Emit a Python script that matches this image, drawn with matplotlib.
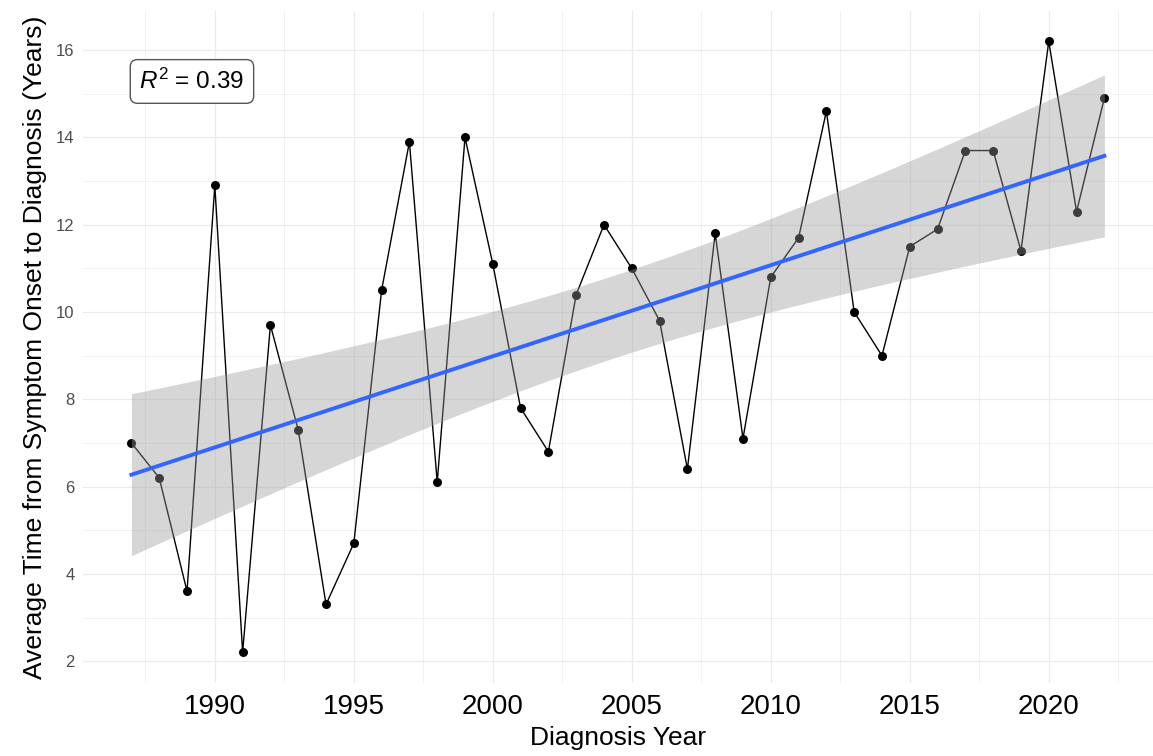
import numpy as np
import matplotlib
matplotlib.use("Agg")
import matplotlib.pyplot as plt
from matplotlib.ticker import MultipleLocator

plt.rcParams['mathtext.fontset'] = 'custom'
plt.rcParams['mathtext.rm'] = 'Liberation Sans'
plt.rcParams['mathtext.it'] = 'Liberation Sans:italic'

years = list(range(1987, 2023))
avg_time = [7.0, 6.2, 3.6, 12.9, 2.2, 9.7, 7.3, 3.3, 4.7, 10.5,
            13.9, 6.1, 14.0, 11.1, 7.8, 6.8, 10.4, 12.0, 11.0, 9.8,
            6.4, 11.8, 7.1, 10.8, 11.7, 14.6, 10.0, 9.0, 11.5, 11.9,
            13.7, 13.7, 11.4, 16.2, 12.3, 14.9]
x_ticks = [1990, 1995, 2000, 2005, 2010, 2015, 2020]
y_ticks = [2, 4, 6, 8, 10, 12, 14, 16]

x = np.array(years, dtype=float)
y = np.array(avg_time, dtype=float)
n = len(x)
slope, intercept = np.polyfit(x, y, 1)
yhat = slope * x + intercept
resid = y - yhat
s = np.sqrt(np.sum(resid ** 2) / (n - 2))
xbar = x.mean()
sxx = np.sum((x - xbar) ** 2)
r2 = 1 - np.sum(resid ** 2) / np.sum((y - y.mean()) ** 2)
t_crit = 2.032  # t(0.975, df=34)
xg = np.linspace(x.min(), x.max(), 80)
yg = slope * xg + intercept
se = s * np.sqrt(1.0 / n + (xg - xbar) ** 2 / sxx)

fig = plt.figure(figsize=(11.53, 7.56), dpi=100)
ax = fig.add_axes([0.0718, 0.0966, 0.9282, 0.889])

ax.plot(x, y, color='black', lw=1.0, zorder=2)
ax.scatter(x, y, s=42, color='black', zorder=3, linewidths=0)
ax.fill_between(xg, yg - t_crit * se, yg + t_crit * se, color='#999999',
                alpha=0.4, lw=0, zorder=4)
ax.plot(xg, yg, color='#3366FF', lw=2.8, zorder=5)

xr = x.max() - x.min()
ax.set_xlim(x.min() - 0.05 * xr, x.max() + 0.05 * xr)
ylo = min(y.min(), (yg - t_crit * se).min())
yhi = max(y.max(), (yg + t_crit * se).max())
yr = yhi - ylo
ax.set_ylim(ylo - 0.05 * yr, yhi + 0.05 * yr)

ax.set_xticks(x_ticks)
ax.set_yticks(y_ticks)
ax.xaxis.set_minor_locator(MultipleLocator(2.5))
ax.yaxis.set_minor_locator(MultipleLocator(1))
ax.grid(which='major', color='#EBEBEB', lw=0.9, zorder=0)
ax.grid(which='minor', color='#EBEBEB', lw=0.5, zorder=0)
ax.set_axisbelow(True)
for sp in ax.spines.values():
    sp.set_visible(False)
ax.tick_params(which='both', length=0)
ax.tick_params(axis='y', labelsize=12, labelcolor='#4D4D4D', pad=6)
ax.tick_params(axis='x', pad=8)
for lab in ax.get_xticklabels():
    lab.set_fontfamily(['Liberation Sans Narrow', 'Liberation Sans'])
    lab.set_fontsize(20)
    lab.set_color('black')
for lab in ax.get_yticklabels():
    lab.set_fontfamily(['Liberation Sans', 'DejaVu Sans'])

ax.set_xlabel('Diagnosis Year', fontsize=19,
              family=['Liberation Sans Narrow', 'Liberation Sans'], labelpad=4)
ax.set_ylabel('Average Time from Symptom Onset to Diagnosis (Years)', fontsize=19,
              family=['Liberation Sans', 'DejaVu Sans'], labelpad=6)

ax.text(0.102, 0.895, r'$\it{R}^2$' + ' = %.2f' % r2, transform=ax.transAxes,
        fontsize=17.5, family=['Liberation Sans', 'DejaVu Sans'],
        ha='center', va='center', zorder=6,
        bbox=dict(boxstyle='round,pad=0.38,rounding_size=0.3', fc='white',
                  ec='#555555', lw=1))

fig.savefig('out.png', dpi=100)
